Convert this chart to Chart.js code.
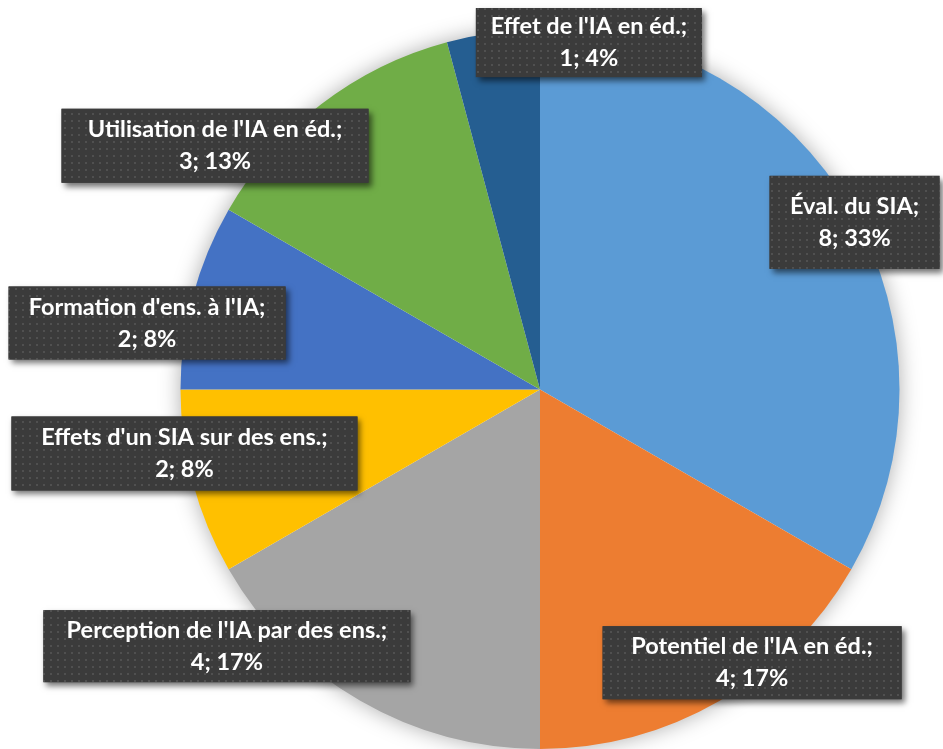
<!DOCTYPE html>
<html>
<head>
<meta charset="utf-8">
<script src="https://cdn.jsdelivr.net/npm/chart.js@4.4.1/dist/chart.umd.min.js"></script>
<style>
  html, body { margin: 0; padding: 0; background: #ffffff; }
  #wrap { width: 943px; height: 749px; position: relative; }
</style>
</head>
<body>
<div id="wrap"><canvas id="c" width="943" height="749"></canvas></div>
<script>
// ---- data ----
const categories = [
  "Éval. du SIA",
  "Potentiel de l'IA en éd.",
  "Perception de l'IA par des ens.",
  "Effets d'un SIA sur des ens.",
  "Formation d'ens. à l'IA",
  "Utilisation de l'IA en éd.",
  "Effet de l'IA en éd."
];
const counts = [8, 4, 4, 2, 2, 3, 1];
const sliceColors = ["#5B9BD5", "#ED7D31", "#A5A5A5", "#FFC000", "#4472C4", "#70AD47", "#255E91"];

// label box layout: centre offset as a fraction of the pie radius, box size in px
const labelOffsetX = [0.875, 0.590, -0.871, -0.989, -1.093, -0.904, 0.136];
const labelOffsetY = [-0.465, 0.760, 0.714, 0.178, -0.185, -0.678, -0.965];
const labelBoxW = [170, 299, 367, 346, 277, 307, 226];
const labelBoxH = [93, 73, 72, 74, 73, 74, 69];

const FONT = "bold 23.5px Lato, 'Open Sans', sans-serif";

function makePattern(ctx) {
  const p = document.createElement('canvas');
  p.width = 7; p.height = 7;
  const g = p.getContext('2d');
  g.fillStyle = '#3b3b3b';
  g.fillRect(0, 0, 7, 7);
  g.fillStyle = '#505050';
  g.fillRect(1, 1, 2, 2);
  return ctx.createPattern(p, 'repeat');
}

const pieShadow = {
  id: 'pieShadow',
  beforeDatasetsDraw(chart) {
    const arc = chart.getDatasetMeta(0).data[0];
    if (!arc) return;
    const ctx = chart.ctx;
    ctx.save();
    ctx.shadowColor = 'rgba(0,0,0,0.35)';
    ctx.shadowBlur = 22;
    ctx.shadowOffsetX = 0;
    ctx.shadowOffsetY = 0;
    ctx.fillStyle = '#ffffff';
    ctx.beginPath();
    ctx.arc(arc.x, arc.y, arc.outerRadius - 1, 0, Math.PI * 2);
    ctx.fill();
    ctx.restore();
  }
};

const boxLabels = {
  id: 'boxLabels',
  afterDatasetsDraw(chart) {
    const ctx = chart.ctx;
    const meta = chart.getDatasetMeta(0);
    const first = meta.data[0];
    const cx = first.x, cy = first.y, r = first.outerRadius;
    const data = chart.data.datasets[0].data;
    const total = data.reduce((a, b) => a + b, 0);
    const pattern = makePattern(ctx);
    ctx.save();
    ctx.font = FONT;
    ctx.textAlign = 'center';
    ctx.textBaseline = 'middle';
    data.forEach((v, i) => {
      const bx = cx + labelOffsetX[i] * r;
      const by = cy + labelOffsetY[i] * r;
      const w = labelBoxW[i], h = labelBoxH[i];
      ctx.save();
      ctx.shadowColor = 'rgba(0,0,0,0.55)';
      ctx.shadowBlur = 6;
      ctx.shadowOffsetX = 3;
      ctx.shadowOffsetY = 4;
      ctx.fillStyle = '#3b3b3b';
      ctx.fillRect(bx - w / 2, by - h / 2, w, h);
      ctx.restore();
      ctx.fillStyle = pattern;
      ctx.fillRect(bx - w / 2, by - h / 2, w, h);
      const pct = Math.round(v / total * 100);
      ctx.fillStyle = '#ffffff';
      ctx.fillText(chart.data.labels[i] + ';', bx, by - 16);
      ctx.fillText(v + '; ' + pct + '%', bx, by + 16);
    });
    ctx.restore();
  }
};

new Chart(document.getElementById('c'), {
  type: 'pie',
  data: {
    labels: categories,
    datasets: [{
      data: counts,
      backgroundColor: sliceColors,
      borderWidth: 0
    }]
  },
  options: {
    responsive: false,
    animation: false,
    layout: { padding: { left: 180, right: 43, top: 30, bottom: 0 } },
    plugins: {
      legend: { display: false },
      tooltip: { enabled: false }
    }
  },
  plugins: [pieShadow, boxLabels]
});
</script>
</body>
</html>
